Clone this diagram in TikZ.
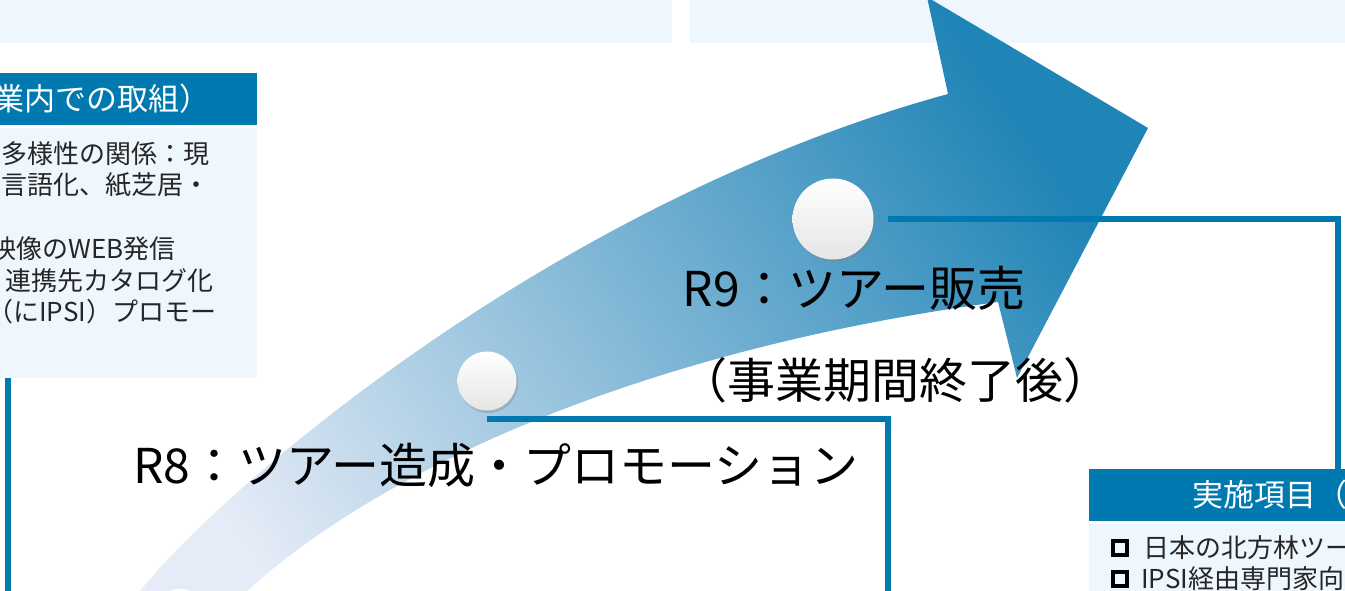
\documentclass[tikz,border=0pt]{standalone}
\usepackage{fontspec}
\setmainfont{Noto Sans CJK JP}
\usepackage{tikz}
\usetikzlibrary{shapes,arrows,shadows,positioning}

\definecolor{paleblue}{HTML}{EEF6FE}
\definecolor{hdrblue}{HTML}{0079B1}
\definecolor{arrowhi}{HTML}{1F84B6}
\definecolor{arrowlo}{HTML}{E6ECF7}

\begin{document}
\begin{tikzpicture}[x=1pt, y=-1pt]
	\tikzstyle{Panel}  = [rectangle, inner sep=0pt, anchor=north west]
	\tikzstyle{Head}   = [Panel, fill=hdrblue]
	\tikzstyle{Body}   = [Panel, fill=paleblue]
	\tikzstyle{Stage}  = [circle, inner sep=0pt, shade, top color=white, bottom color=black!10, drop shadow={opacity=0.35, shadow xshift=1.5pt, shadow yshift=-2.5pt}]
	\tikzstyle{Link}   = [line width=6pt, hdrblue]
	\tikzstyle{Big}    = [font=\fontsize{48}{56}\selectfont, inner sep=0pt]
	\tikzstyle{HeadTx} = [font=\fontsize{31}{37}\selectfont, white, inner sep=0pt]
	\tikzstyle{BodyTx} = [font=\fontsize{26}{31}\selectfont, black!85, inner sep=0pt, anchor=west]
	\tikzstyle{Tick}   = [draw=black, line width=3.5pt, minimum size=14pt, inner sep=0pt]

	\useasboundingbox (0,0) rectangle (1345,591);
	\clip (0,0) rectangle (1345,591);
	\fill[white] (0,0) rectangle (1345,591);

	% top bands
	\fill[paleblue] (0,0) rectangle (672,43);
	\fill[paleblue] (690,0) rectangle (1345,43);

	% left panel
	\node (hL) at (0,73)  [Head, minimum width=257pt, minimum height=52pt] {};
	\node (bL) at (0,128) [Body, minimum width=257pt, minimum height=250pt] {};
	\node (tL) at (211,99) [HeadTx, anchor=east] {業内での取組）};
	\node (p1) at (1,154)   [BodyTx] {多様性の関係：現};
	\node (p2) at (1,185)   [BodyTx] {言語化、紙芝居・};
	\node (p3) at (-10,249) [BodyTx] {映像のWEB発信};
	\node (p4) at (5,281)   [BodyTx] {連携先カタログ化};
	\node (p5) at (-13,312) [BodyTx] {（にIPSI）プロモー};

	% right panel
	\node (hR) at (1089,469) [Head, minimum width=270pt, minimum height=52pt] {};
	\node (bR) at (1089,524) [Body, minimum width=270pt, minimum height=80pt] {};
	\node (tR) at (1192,495) [HeadTx, anchor=west] {実施項目（};
	\node (q1) at (1120,548) [Tick] {};
	\node (q2) at (1120,579) [Tick] {};
	\node (s1) at (1143,548) [BodyTx] {日本の北方林ツー};
	\node (s2) at (1141,579) [BodyTx] {IPSI経由専門家向};

	% big arrow
	\shade[top color=arrowhi, bottom color=arrowlo, shading angle=-55]
		(98,641) -- (140,591) .. controls (230,480) and (560,200) .. (948,94)
		-- (927,-3) -- (1148,128) -- (1017,378) -- (998,302)
		.. controls (640,350) and (380,470) .. (247,591) -- (167,641) -- cycle;

	% stages
	\coordinate (e8) at (888,600);
	\coordinate (e9) at (1338,469);
	\coordinate (eL) at (8,600);
	\draw[Link] (bL.south west) ++(8,0) -- (eL);

	\node (r7) at (180,618) [Stage, minimum size=58pt] {};
	\node (r8) at (487,381) [Stage, minimum size=59pt] {};
	\node (r9) at (833,219) [Stage, minimum size=81pt] {};
	\draw[Link] (r8.south) ++(0,8) -| (e8);
	\draw[Link] (r9.east) ++(14,0) -| (e9);

	\node (t8)  at (496,465) [Big] {R8：ツアー造成・プロモーション};
	\node (t9)  at (854,288) [Big] {R9：ツアー販売};
	\node (t9b) at (895,380) [Big] {（事業期間終了後）};
\end{tikzpicture}
\end{document}
